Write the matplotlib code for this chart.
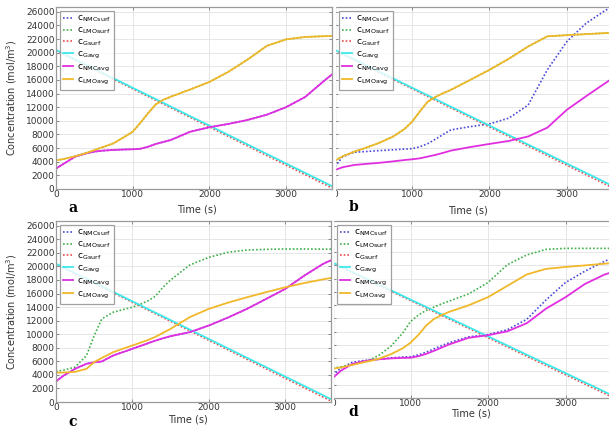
"""Four-panel concentration vs time (a-d), COMSOL-style line plots."""

import matplotlib

matplotlib.use("Agg")

import matplotlib.pyplot as plt
from matplotlib.patches import Rectangle

plt.rcParams["font.family"] = ["DejaVu Sans"]
plt.rcParams["mathtext.fontset"] = "dejavusans"

# common time grid for the curved series (s)
T = [0, 100, 250, 400, 500, 600, 750, 900, 1000, 1100, 1200, 1300, 1400, 1500,
     1750, 2000, 2250, 2500, 2750, 3000, 3250, 3500, 3600]

# graphite lines are straight
G_T = [0, 3600]
G_AVG = [20400, 420]
G_SURF = [20300, 150]

# panel a
A_LMO_AVG = [4200, 4400, 4800, 5300, 5700, 6100, 6700, 7700, 8400, 9700, 11100, 12400, 13100,
             13550, 14600, 15700, 17200, 19000, 21000, 21950, 22300, 22420, 22450]
A_LMO_SURF = A_LMO_AVG
A_NMC_AVG = [3000, 3700, 4750, 5250, 5480, 5620, 5730, 5800, 5830, 5900, 6200, 6600, 6900,
             7200, 8400, 9060, 9550, 10130, 10900, 12000, 13500, 15900, 16800]
A_NMC_SURF = A_NMC_AVG

# panel b
B_LMO_AVG = [4160, 4800, 5480, 6050, 6460, 6900, 7680, 8800, 9890, 11400, 12800, 13500, 14050,
             14540, 16000, 17480, 19100, 20900, 22400, 22570, 22720, 22870, 22920]
B_LMO_SURF = B_LMO_AVG
B_NMC_SURF = [3280, 4740, 5390, 5500, 5580, 5650, 5750, 5850, 5920, 6200, 6650, 7300, 8000,
              8670, 9150, 9550, 10390, 12300, 17500, 21600, 24300, 26200, 26800]
B_NMC_AVG = [2790, 3200, 3525, 3680, 3770, 3870, 4050, 4250, 4360, 4500, 4750, 5000, 5300,
             5630, 6150, 6610, 7050, 7700, 9000, 11600, 13600, 15530, 16300]

# panel c
C_LMO_SURF = [4510, 4700, 5150, 6870, 9800, 12260, 13250, 13700, 13980, 14400, 14900, 15600,
              16920, 18000, 20200, 21340, 22080, 22420, 22520, 22570, 22570, 22550, 22550]
C_LMO_AVG = [4320, 4350, 4450, 4900, 5890, 6500, 7360, 7950, 8340, 8730, 9130, 9600, 10200,
             10790, 12510, 13740, 14650, 15450, 16200, 16920, 17550, 18100, 18300]
C_NMC_AVG = [3040, 3900, 4900, 5640, 5850, 5980, 6870, 7450, 7850, 8250, 8650, 9050, 9400,
             9710, 10300, 11280, 12450, 13740, 15200, 16680, 18640, 20400, 20900]
C_NMC_SURF = C_NMC_AVG

# panel d
D_LMO_SURF = [4510, 4700, 5000, 5500, 5890, 6500, 7850, 9800, 11530, 12500, 13200, 13700,
              14200, 14620, 15700, 17420, 20110, 21580, 22420, 22570, 22570, 22570, 22570]
D_LMO_AVG = [4420, 4600, 5000, 5400, 5640, 5950, 6620, 7500, 8340, 9500, 10900, 11900, 12500,
             13000, 13980, 15210, 16920, 18640, 19480, 19770, 20000, 20260, 20350]
D_NMC_AVG = [3040, 4100, 5150, 5550, 5740, 5850, 5980, 6050, 6080, 6300, 6650, 7100, 7600,
             8090, 9080, 9470, 10060, 11280, 13490, 15200, 17200, 18600, 19000]
D_NMC_SURF = [3430, 4500, 5400, 5650, 5740, 5850, 6050, 6180, 6230, 6500, 6900, 7400, 7900,
              8340, 9220, 9570, 10300, 11870, 14810, 17420, 19130, 20600, 21100]

LABELS = [r"$\mathregular{c}_{\mathregular{NMCsurf}}$", r"$\mathregular{c}_{\mathregular{LMOsurf}}$",
          r"$\mathregular{c}_{\mathregular{Gsurf}}$", r"$\mathregular{c}_{\mathregular{Gavg}}$",
          r"$\mathregular{c}_{\mathregular{NMCavg}}$", r"$\mathregular{c}_{\mathregular{LMOavg}}$"]

PANELS = {
    "a": (A_NMC_SURF, A_LMO_SURF, A_NMC_AVG, A_LMO_AVG),
    "b": (B_NMC_SURF, B_LMO_SURF, B_NMC_AVG, B_LMO_AVG),
    "c": (C_NMC_SURF, C_LMO_SURF, C_NMC_AVG, C_LMO_AVG),
    "d": (D_NMC_SURF, D_LMO_SURF, D_NMC_AVG, D_LMO_AVG),
}

W, H = 609, 432
fig = plt.figure(figsize=(W / 100, H / 100), dpi=100)

# pixel boxes: left, top, right, bottom
boxes = {"a": (56, 7, 332, 189), "b": (335, 7, 613, 189),
         "c": (56, 221, 331, 402), "d": (333, 221, 612, 398)}
zord = {"a": 3, "b": 1, "c": 3, "d": 1}

GRID = "#e2e2e2"
SPINE = "#9a9a9a"
TXT = "#333333"

for key, (nmc_s, lmo_s, nmc_a, lmo_a) in PANELS.items():
    l, t, r, b = boxes[key]
    ax = fig.add_axes([l / W, 1 - b / H, (r - l) / W, (b - t) / H], zorder=zord[key])
    ax.plot(T, nmc_s, ls=(0, (1, 1.2)), lw=1.2, color="#4a4ad8", label=LABELS[0])
    ax.plot(T, lmo_s, ls=(0, (1, 1.2)), lw=1.2, color="#3fb04a", label=LABELS[1])
    ax.plot(G_T, G_SURF, ls=(0, (1, 1.2)), lw=1.2, color="#e84a4a", label=LABELS[2])
    ax.plot(G_T, G_AVG, lw=1.3, color="#3fe8e8", label=LABELS[3])
    ax.plot(T, nmc_a, lw=1.3, color="#e02ee0", label=LABELS[4])
    ax.plot(T, lmo_a, lw=1.3, color="#f0b82a", label=LABELS[5])

    ax.set_xlim(0, 3600)
    ax.set_ylim(0, 26700)
    ax.set_xticks([0, 1000, 2000, 3000])
    ax.set_yticks(range(0, 26001, 2000))
    ax.grid(True, color=GRID, lw=0.6)
    ax.set_axisbelow(True)
    for s in ax.spines.values():
        s.set_color(SPINE)
        s.set_linewidth(0.9)
    ax.tick_params(direction="in", length=2.5, width=0.6, color="#777777", labelsize=6.5,
                   labelcolor=TXT, pad=1.0, top=True, right=True,
                   labelleft=key in ("a", "c"))

    leg = ax.legend(loc="upper left", fontsize=6.6, frameon=True, fancybox=False,
                    borderaxespad=0.4, handlelength=1.1, handletextpad=0.4,
                    labelspacing=0.15, borderpad=0.35)
    leg.get_frame().set_edgecolor("#8a8a8a")
    leg.get_frame().set_linewidth(0.9)

# the panels were cropped side by side: left images hide the right ones' edges
fig.add_artist(Rectangle((0, 0.5), 334.5 / W, 0.5, transform=fig.transFigure,
                         color="white", zorder=2))
fig.add_artist(Rectangle((0, 0), 332.5 / W, 0.5, transform=fig.transFigure,
                         color="white", zorder=2))

ylab = "Concentration (mol/m$^3$)"
fig.text(12 / W, 1 - 98 / H, ylab, rotation=90, ha="center", va="center", fontsize=7, color=TXT)
fig.text(12 / W, 1 - 312 / H, ylab, rotation=90, ha="center", va="center", fontsize=7, color=TXT)

for x, y in [(197, 209), (468, 210), (188, 420), (471, 414)]:
    fig.text(x / W, 1 - y / H, "Time (s)", ha="center", va="center", fontsize=7, color=TXT)

for key, (x, y) in {"a": (73, 208), "b": (354, 207), "c": (73, 422), "d": (353, 412)}.items():
    fig.text(x / W, 1 - y / H, key, ha="center", va="center", fontsize=10,
             fontweight="bold", family="DejaVu Serif", zorder=5)

fig.savefig("out.png", dpi=100)
